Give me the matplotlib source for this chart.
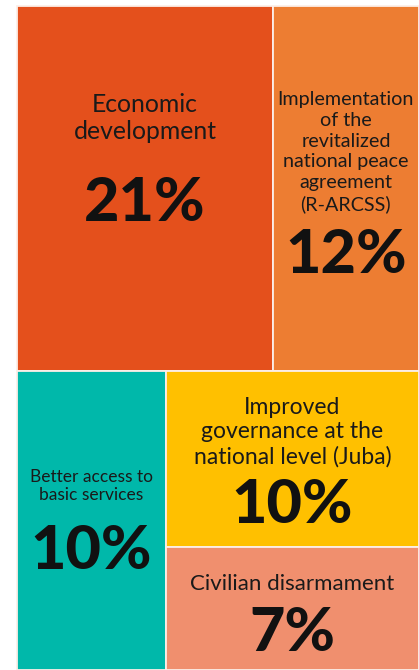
import matplotlib.pyplot as plt
from matplotlib.patches import Rectangle

labels = ["Economic\ndevelopment",
          "Implementation\nof the\nrevitalized\nnational peace\nagreement\n(R-ARCSS)",
          "Better access to\nbasic services",
          "Improved\ngovernance at the\nnational level (Juba)",
          "Civilian disarmament"]
values = [21, 12, 10, 10, 7]
colores = ["#E4501C", "#ED7D32", "#00B8AA", "#FFC000", "#F08F6E"]

plt.rcParams['font.family'] = ['Lato', 'DejaVu Sans']

W, H = 419, 670
x0, y0 = 17, 6
ancho, alto = W - x0, H - y0
total = sum(values)

# layout: top row [0, 1], bottom-left [2], bottom-right column [3, 4]
top = values[0] + values[1]
h_top = alto * top / total
w0 = ancho * values[0] / top
h_bot = alto - h_top
w2 = ancho * values[2] / (total - top)
h3 = h_bot * values[3] / (values[3] + values[4])

rects = [
    (x0, y0, w0, h_top),
    (x0 + w0, y0, ancho - w0, h_top),
    (x0, y0 + h_top, w2, h_bot),
    (x0 + w2, y0 + h_top, ancho - w2, h3),
    (x0 + w2, y0 + h_top + h3, ancho - w2, h_bot - h3),
]

# label y, label size, number y, line spacing
texto = [
    (118, 17.8, 203, 1.18),
    (152, 14.2, 255, 1.27),
    (486, 12.5, 551, 1.08),
    (432, 16.5, 505, 1.2),
    (584, 16, 633, 1.1),
]

fig = plt.figure(figsize=(W / 100, H / 100), dpi=100)
ax = fig.add_axes([0, 0, 1, 1])
ax.set_xlim(0, W)
ax.set_ylim(H, 0)
ax.axis('off')

for (x, y, w, h), c, lab, v, (ty, fs, ny, ls) in zip(rects, colores, labels, values, texto):
    ax.add_patch(Rectangle((x, y), w, h, facecolor=c, edgecolor='#FCEFE8', linewidth=1.3))
    cx = x + w / 2
    ax.text(cx, ty, lab, ha='center', va='center', fontsize=fs, color='#1a1a1a',
            linespacing=ls)
    ax.text(cx, ny, f"{v}%", ha='center', va='center', fontsize=44, fontweight='black',
            color='#111111')

fig.savefig("out.png", dpi=100)
